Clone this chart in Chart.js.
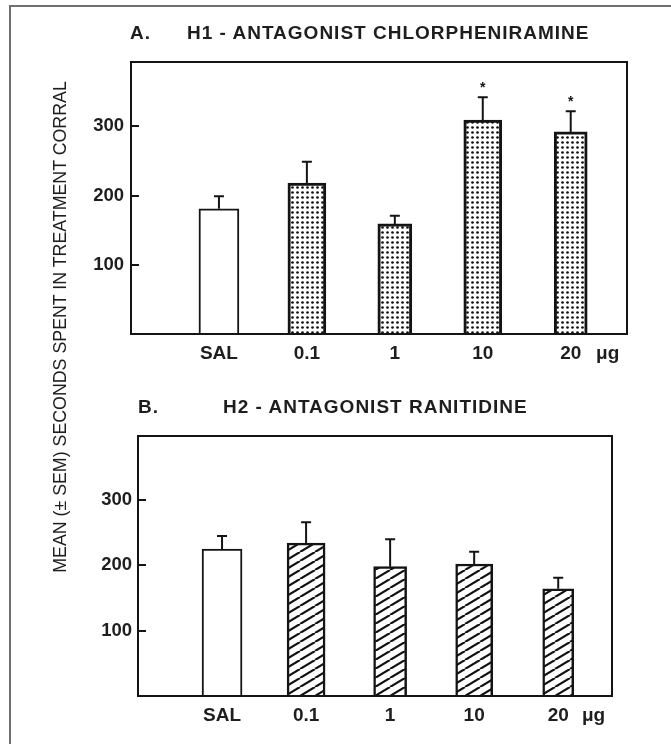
<!DOCTYPE html>
<html><head><meta charset="utf-8">
<script src="https://cdn.jsdelivr.net/npm/chart.js@4.4.0/dist/chart.umd.min.js"></script>
<style>
html,body{margin:0;padding:0;background:#fff;width:671px;height:744px;overflow:hidden;}
#frame{position:absolute;left:9px;top:5px;width:700px;height:800px;border-left:2px solid #707070;border-top:2px solid #707070;}
canvas{position:absolute;left:0;}
.t{position:absolute;font-family:"Liberation Sans",Arial,sans-serif;font-weight:bold;font-size:19px;letter-spacing:1px;color:#1e1e1e;line-height:20px;white-space:nowrap;}
#ytitle{position:absolute;left:-240px;top:317px;width:600px;height:20px;line-height:20px;text-align:center;font-family:"Liberation Sans",Arial,sans-serif;font-size:17.8px;color:#1e1e1e;transform:rotate(-90deg);white-space:nowrap;}
</style></head>
<body>
<div id="frame"></div>
<canvas id="c1" width="671" height="372" style="top:0"></canvas>
<canvas id="c2" width="671" height="372" style="top:372px"></canvas>
<div class="t" style="left:130px;top:23px">A.</div>
<div class="t" style="left:187px;top:23px">H1 - ANTAGONIST CHLORPHENIRAMINE</div>
<div class="t" style="left:138px;top:397px">B.</div>
<div class="t" style="left:223px;top:397px">H2 - ANTAGONIST RANITIDINE</div>
<div id="ytitle">MEAN (±&nbsp;SEM) SECONDS SPENT IN TREATMENT CORRAL</div>
<script>
// ---- data ----
const categories = ['SAL', '0.1', '1', '10', '20'];
const unitLabel = 'μg';
const xPositions = [1, 2, 3, 4, 5];
const h1Means = [181, 218, 159, 309, 292];
const h1Sem = [18, 31, 12, 33, 30];
const h1Signif = [false, false, false, true, true];
const h2Means = [225, 234, 198, 202, 164];
const h2Sem = [20, 32, 42, 19, 17];
const h2Signif = [false, false, false, false, false];
const yTickValues = [100, 200, 300];

// ---- styles ----
const INK = '#141414';
const TXT = '#1e1e1e';
const FONT = '"Liberation Sans", Arial, sans-serif';

function dotPattern() {
  const c = document.createElement('canvas'); c.width = 5; c.height = 5;
  const g = c.getContext('2d');
  g.fillStyle = '#fff'; g.fillRect(0, 0, 5, 5);
  g.fillStyle = '#111'; g.beginPath(); g.arc(2.5, 2.5, 1.35, 0, Math.PI * 2); g.fill();
  return g.createPattern(c, 'repeat');
}
function hatchPattern() {
  const w = 15, h = 9;
  const c = document.createElement('canvas'); c.width = w; c.height = h;
  const g = c.getContext('2d');
  g.fillStyle = '#fff'; g.fillRect(0, 0, w, h);
  g.strokeStyle = '#111'; g.lineWidth = 2.2;
  for (const k of [-1, 0, 1]) {
    g.beginPath(); g.moveTo(k * w, h); g.lineTo(k * w + w, 0); g.stroke();
  }
  return g.createPattern(c, 'repeat');
}

function makeChart(id, means, sems, signif, cfg) {
  const decor = {
    id: 'decor',
    afterDatasetsDraw(chart) {
      const { ctx, chartArea: a, scales: { y } } = chart;
      ctx.save();
      ctx.strokeStyle = INK; ctx.lineWidth = 2;
      ctx.strokeRect(a.left, a.top, a.right - a.left, a.bottom - a.top);
      y.ticks.forEach(t => {
        const py = Math.round(y.getPixelForValue(t.value));
        ctx.beginPath(); ctx.moveTo(a.left, py); ctx.lineTo(a.left + 8, py); ctx.stroke();
      });
      ctx.fillStyle = INK;
      ctx.font = 'bold 14px ' + FONT;
      ctx.textAlign = 'center'; ctx.textBaseline = 'middle';
      chart.data.datasets.forEach((ds, i) => {
        const el = chart.getDatasetMeta(i).data[0];
        const top = y.getPixelForValue(means[i] + sems[i]);
        ctx.lineWidth = 2;
        ctx.beginPath();
        ctx.moveTo(el.x, el.y); ctx.lineTo(el.x, top);
        ctx.moveTo(el.x - 5, top); ctx.lineTo(el.x + 5, top);
        ctx.stroke();
        if (signif[i]) ctx.fillText('*', el.x, top - 9);
      });
      ctx.restore();
    }
  };
  const datasets = categories.map((c, i) => ({
    label: c,
    data: [{ x: xPositions[i], y: means[i] }],
    backgroundColor: i === 0 ? '#fff' : cfg.pattern,
    borderColor: INK,
    borderWidth: i === 0 ? cfg.salBw : cfg.patBw,
    borderSkipped: 'start',
    barThickness: cfg.widths[i],
    grouped: false
  }));
  return new Chart(document.getElementById(id), {
    type: 'bar',
    data: { datasets },
    options: {
      responsive: false, animation: false, devicePixelRatio: 1,
      layout: { padding: { left: 0, top: cfg.top, right: cfg.right, bottom: 0 } },
      plugins: { legend: { display: false }, tooltip: { enabled: false }, title: { display: false } },
      scales: {
        x: {
          type: 'linear', min: 0, max: cfg.xMax, offset: false,
          afterBuildTicks: s => { s.ticks = xPositions.map(v => ({ value: v })).concat([{ value: 5 + cfg.unitOffset }]); },
          ticks: {
            autoSkip: false, maxRotation: 0, padding: 8, color: TXT,
            font: { family: FONT, size: 19, weight: 'bold' },
            callback: (v, i) => i < categories.length ? categories[i] : unitLabel
          },
          grid: { display: false, drawTicks: false, offset: false },
          border: { display: false },
          afterFit: s => { s.height = cfg.xHeight; }
        },
        y: {
          min: 0, max: cfg.yMax,
          afterBuildTicks: s => { s.ticks = yTickValues.map(v => ({ value: v })); },
          ticks: { padding: cfg.yPad, color: TXT, font: { family: FONT, size: 18.5, weight: 'bold' } },
          grid: { display: false, drawTicks: false },
          border: { display: false },
          afterFit: s => { s.width = cfg.yWidth; }
        }
      }
    },
    plugins: [decor]
  });
}

makeChart('c1', h1Means, h1Sem, h1Signif, {
  pattern: dotPattern(), salBw: 2, patBw: 3,
  widths: [40, 38, 34, 38, 33],
  top: 62, right: 44, yWidth: 131, xHeight: 38, yMax: 393, xMax: 5.64, unitOffset: 0.42, yPad: 7
});
makeChart('c2', h2Means, h2Sem, h2Signif, {
  pattern: hatchPattern(), salBw: 2, patBw: 2.5,
  widths: [40, 38, 33, 37, 31],
  top: 64, right: 59, yWidth: 138, xHeight: 48, yMax: 398, xMax: 5.64, unitOffset: 0.42, yPad: 6
});
</script>
</body></html>
